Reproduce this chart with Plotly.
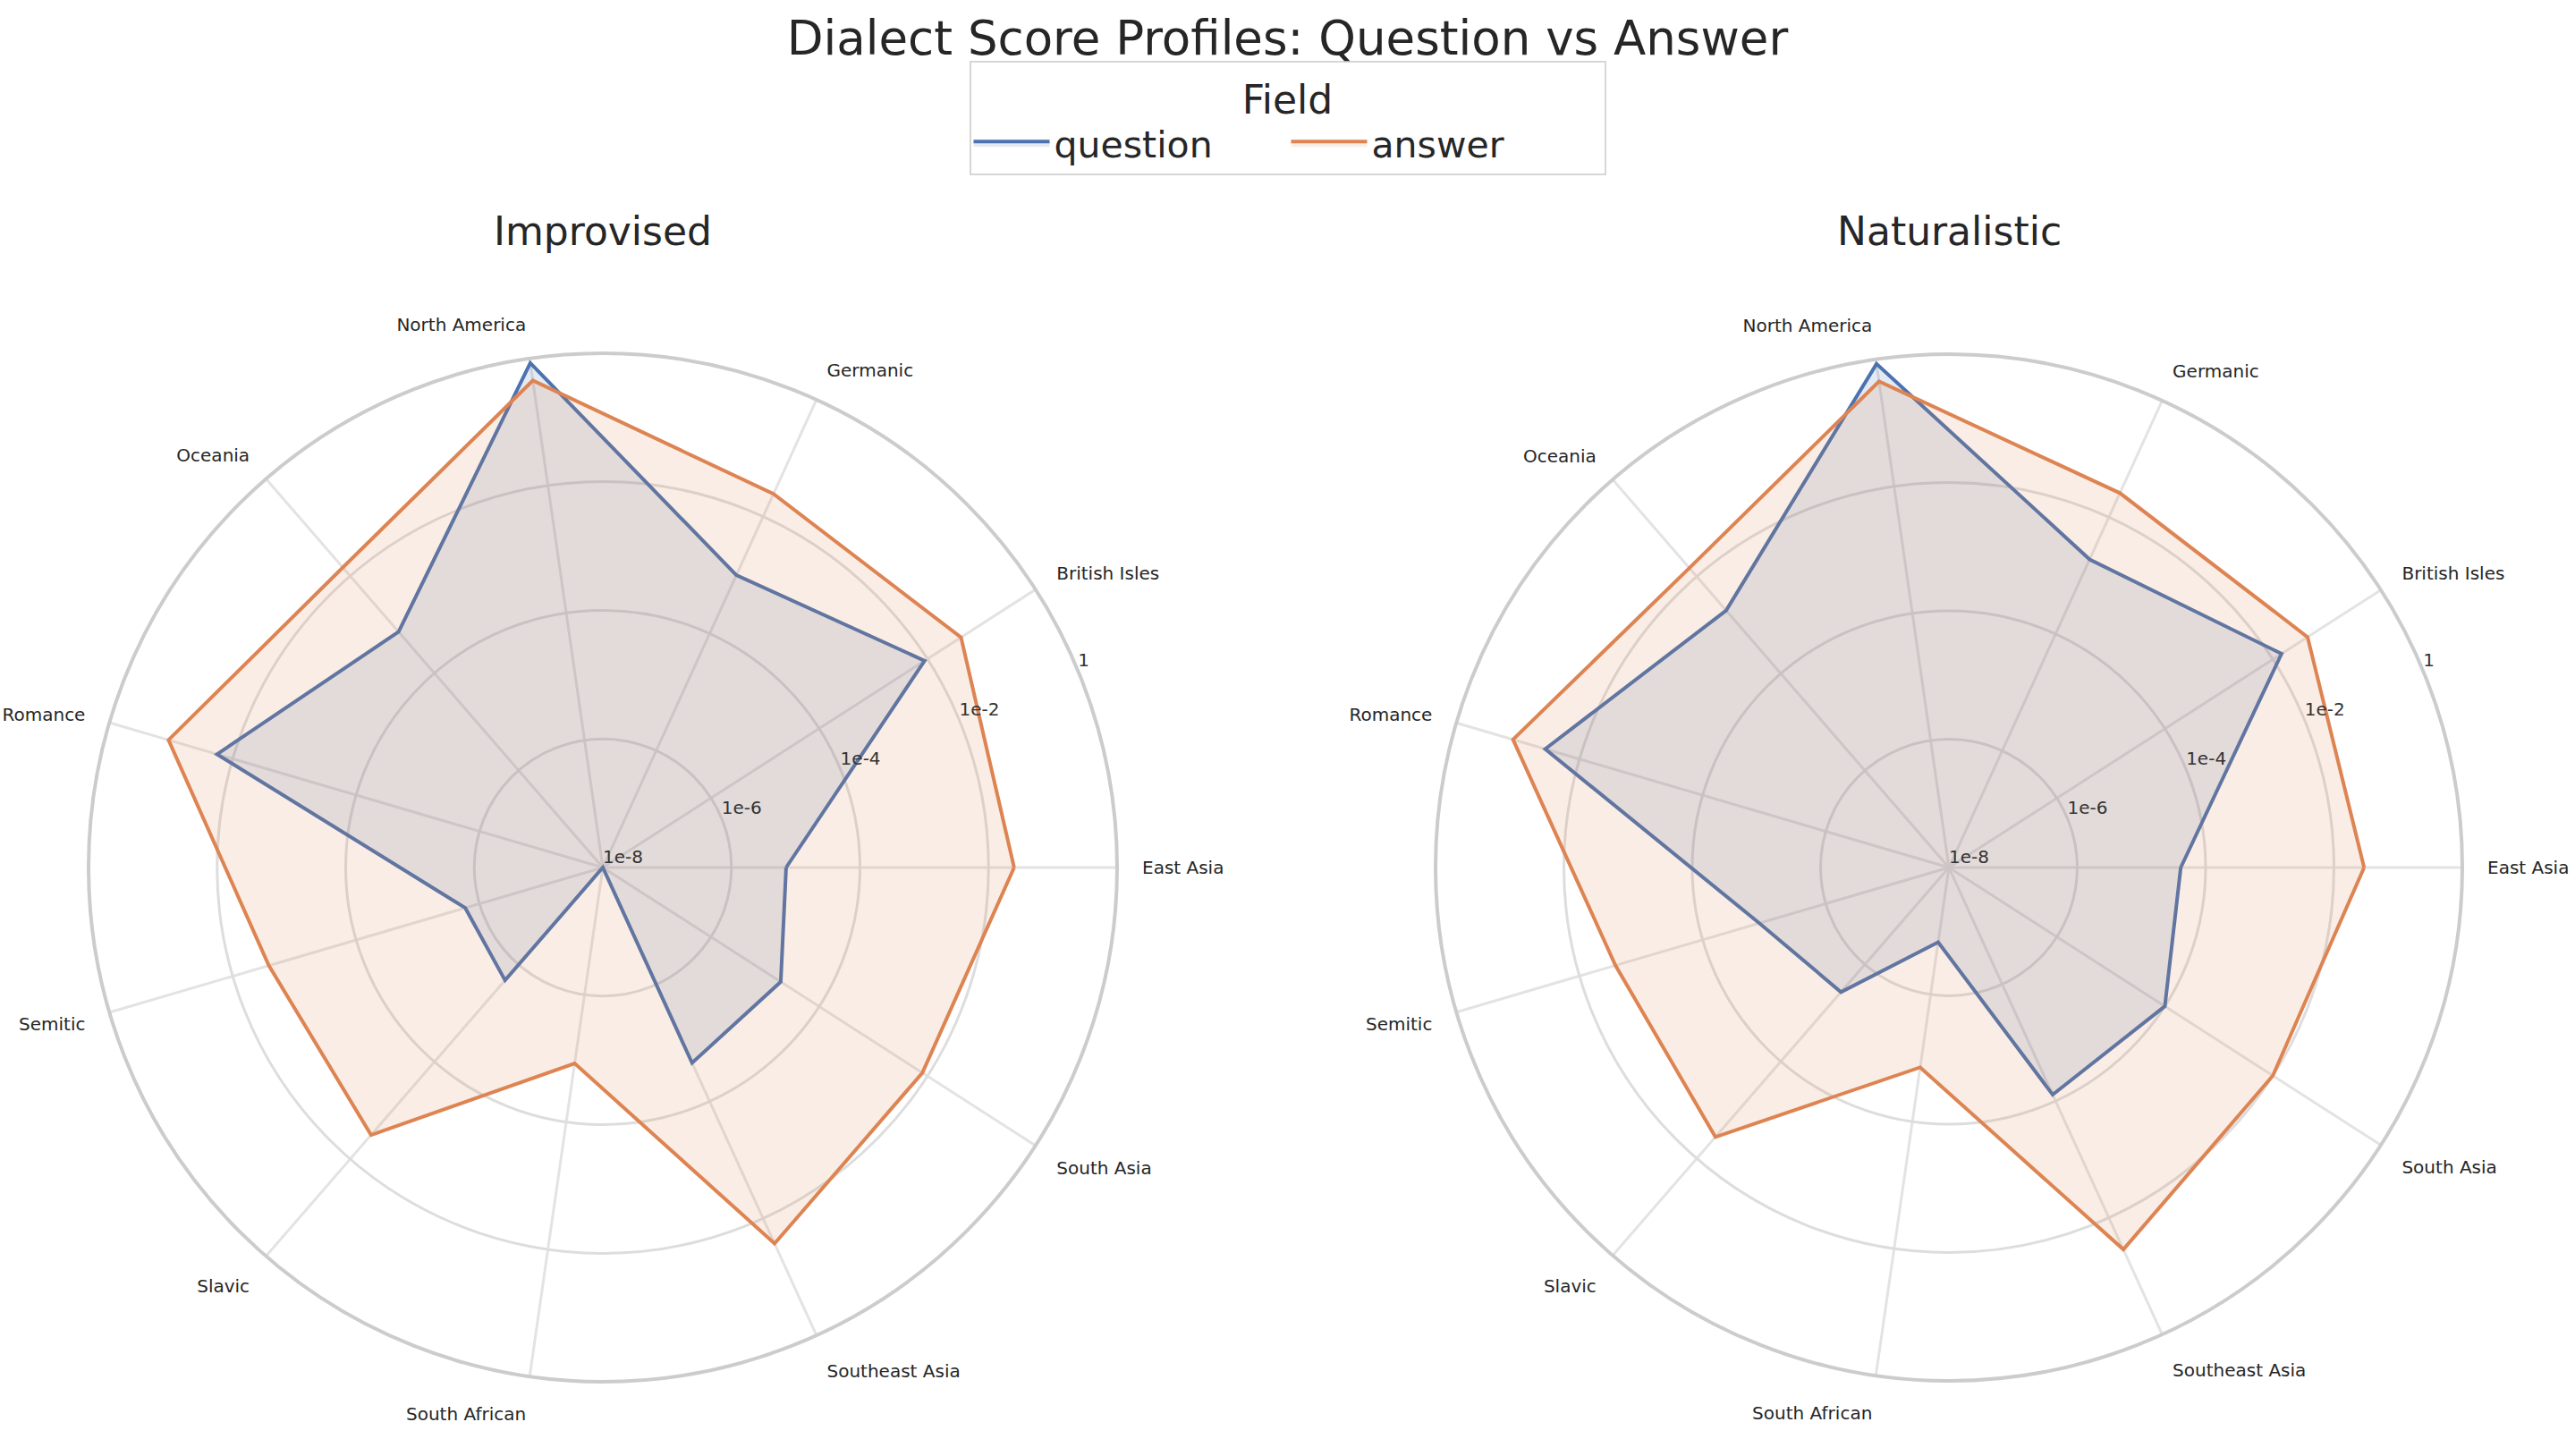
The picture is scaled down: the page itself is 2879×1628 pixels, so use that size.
import plotly.graph_objects as go

categories = ["East Asia", "British Isles", "Germanic", "North America", "Oceania",
              "Romance", "Semitic", "Slavic", "South African", "Southeast Asia", "South Asia"]

improvised_question = [7.1e-6, 8.9e-3, 1.0e-3, 0.85, 7.1e-4, 1.8e-2, 1.7e-6, 2.1e-6, 1e-8, 2.2e-5, 1.95e-5]
improvised_answer = [2.5e-2, 4.2e-2, 2.45e-2, 0.45, 1.5e-2, 0.11, 2.6e-3, 3.2e-3, 1.2e-5, 2.7e-2, 8.1e-3]
naturalistic_question = [4.1e-5, 1.45e-2, 1.9e-3, 0.85, 2.0e-3, 3.6e-2, 1.2e-5, 3.7e-6, 1.5e-7, 7.8e-5, 1.0e-4]
naturalistic_answer = [2.95e-2, 4.4e-2, 2.6e-2, 0.45, 1.5e-2, 0.12, 2.6e-3, 3.6e-3, 1.4e-5, 3.5e-2, 1.0e-2]

radial_ticks = [1e-8, 1e-6, 1e-4, 1e-2, 1]
radial_labels = ["1e-8", "1e-6", "1e-4", "1e-2", "1"]

panels = ["Improvised", "Naturalistic"]
series = {
    "Improvised": {"question": improvised_question, "answer": improvised_answer},
    "Naturalistic": {"question": naturalistic_question, "answer": naturalistic_answer},
}
colors = {"question": "#4C72B0", "answer": "#DD8452"}
fills = {"question": "rgba(76,114,176,0.15)", "answer": "rgba(221,132,82,0.15)"}

FONT = "DejaVu Sans"
TEXT = "#262626"
W, H = 2879, 1628
RLABEL_ANGLE = 22.5  # matplotlib default radial label position

fig = go.Figure()
for i, panel in enumerate(panels):
    sub = "polar" if i == 0 else "polar2"
    for field in ["question", "answer"]:
        vals = series[panel][field]
        r = list(vals) + [vals[0]]
        th = categories + [categories[0]]
        fig.add_trace(go.Scatterpolar(
            r=r, theta=th, subplot=sub, mode="lines", fill="toself",
            fillcolor=fills[field], line=dict(color=colors[field], width=4),
            name=field, legendgroup=field, showlegend=(i == 0),
        ))

# radial tick labels drawn through an overlaid polar scale (horizontal text at 22.5 deg)
for sub in ["polar3", "polar4"]:
    fig.add_trace(go.Scatterpolar(
        r=radial_ticks, theta=[RLABEL_ANGLE] * len(radial_ticks), subplot=sub,
        mode="text", text=radial_labels, textposition="top right",
        textfont=dict(family=FONT, size=20, color="#333333"),
        showlegend=False, hoverinfo="skip",
    ))

YDOM = [1 - 1545 / H, 1 - 395 / H]

def polar_layout(xdom):
    return dict(
        domain=dict(x=xdom, y=YDOM),
        bgcolor="white",
        angularaxis=dict(
            type="category", categoryarray=categories, direction="counterclockwise",
            rotation=0, showline=True, linecolor="#cccccc", linewidth=4,
            gridcolor="#e3e3e3", gridwidth=3,
            ticks="outside", ticklen=22, tickcolor="rgba(0,0,0,0)",
            tickfont=dict(family=FONT, size=20, color=TEXT),
        ),
        radialaxis=dict(
            type="log", range=[-8, 0], tickvals=radial_ticks,
            showticklabels=False, showline=False, ticks="",
            gridcolor="#dddddd", gridwidth=3,
        ),
    )

def overlay_layout(xdom):
    return dict(
        domain=dict(x=xdom, y=YDOM),
        bgcolor="rgba(0,0,0,0)",
        angularaxis=dict(type="linear", direction="counterclockwise", rotation=0,
                         visible=False, showgrid=False, showline=False),
        radialaxis=dict(type="log", range=[-8, 0], visible=False,
                        showgrid=False, showline=False),
    )

XL = [99 / W, 1249 / W]
XR = [1605 / W, 2753 / W]

fig.update_layout(
    width=W, height=H,
    margin=dict(l=0, r=0, t=0, b=0),
    paper_bgcolor="white", plot_bgcolor="white",
    polar=polar_layout(XL),
    polar2=polar_layout(XR),
    polar3=overlay_layout(XL),
    polar4=overlay_layout(XR),
    title=dict(text="Dialect Score Profiles: Question vs Answer", x=0.5, xanchor="center",
               y=1 - 42 / H, yanchor="middle",
               font=dict(family=FONT, size=53, color=TEXT)),
    legend=dict(
        orientation="h", x=0.5, xanchor="center", y=1 - 68 / H, yanchor="top",
        title=dict(text="Field", side="top center", font=dict(family=FONT, size=44, color=TEXT)),
        font=dict(family=FONT, size=41, color=TEXT),
        bordercolor="#d6d6d6", borderwidth=2, bgcolor="white",
        itemwidth=85, entrywidth=255, entrywidthmode="pixels",
    ),
    annotations=[
        dict(text="Improvised", x=674 / W, y=1 - 259 / H, xref="paper", yref="paper",
             showarrow=False, xanchor="center", yanchor="middle",
             font=dict(family=FONT, size=44, color=TEXT)),
        dict(text="Naturalistic", x=2179 / W, y=1 - 259 / H, xref="paper", yref="paper",
             showarrow=False, xanchor="center", yanchor="middle",
             font=dict(family=FONT, size=44, color=TEXT)),
    ],
)

fig.write_html("out.html")
